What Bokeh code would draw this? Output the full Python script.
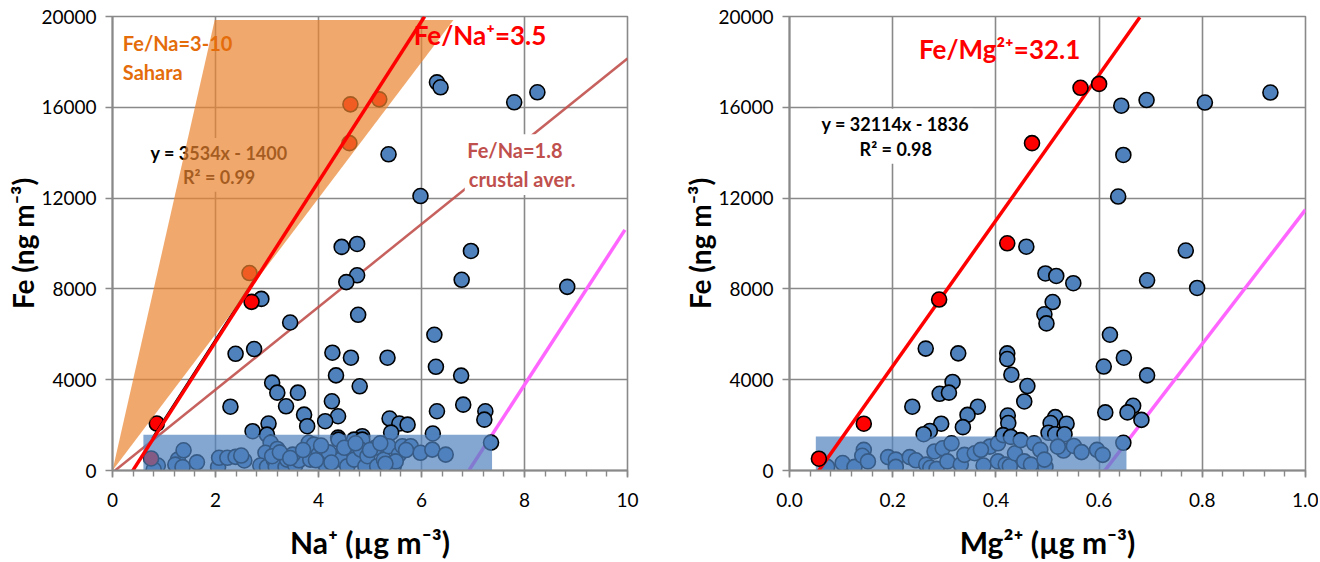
from bokeh.plotting import figure
from bokeh.layouts import row
from bokeh.models import FixedTicker, NumeralTickFormatter, Range1d
from bokeh.core.properties import value
from bokeh.embed import file_html
from bokeh.resources import INLINE

# ---- left panel: Fe vs Na+ ----
na_blue = [6.30, 6.37, 7.80, 8.25, 5.36, 5.98, 4.45, 4.75, 6.96, 4.75, 4.54, 6.78, 8.83,
           2.89, 4.77, 3.45, 2.39, 2.75, 4.27, 4.63, 5.34, 6.25, 6.28, 4.34, 6.77, 3.10,
           3.20, 3.60, 4.80, 2.29, 3.37, 4.26, 3.72, 4.38, 6.30, 6.81, 7.24, 7.22, 3.03,
           3.78, 4.13, 5.38, 5.57, 5.73, 2.72, 3.00, 4.38, 4.85, 5.41, 6.22, 7.35,
           0.88, 0.80, 1.27, 1.38, 1.22, 1.36, 1.64, 2.05, 2.07, 2.23, 2.39, 2.56, 2.50,
           3.07, 2.97, 2.87, 3.00, 3.13, 3.17, 3.20, 3.10, 3.36, 3.39, 3.55, 3.62, 3.84,
           3.81, 3.91, 4.00, 4.14, 4.30, 4.43, 4.39, 4.56, 4.65, 4.69, 4.69, 4.85, 4.82,
           4.91, 4.95, 5.10, 5.14, 5.27, 5.36, 5.46, 5.56, 5.63, 5.79, 5.98, 6.21, 6.47,
           3.50, 3.70, 4.20, 4.50, 4.05, 4.72, 5.00, 5.20, 5.50, 5.30, 3.25, 3.45, 5.70,
           3.95, 4.25]
fe_blue_na = [17100, 16880, 16220, 16660, 13930, 12090, 9850, 9980, 9670, 8600, 8300, 8400, 8090,
              7560, 6860, 6520, 5140, 5350, 5190, 4970, 4970, 5980, 4570, 4190, 4180, 3870,
              3430, 3430, 3710, 2810, 2830, 3050, 2460, 2390, 2610, 2900, 2610, 2240, 2070,
              1950, 2170, 2290, 2070, 2020, 1730, 1580, 1450, 1510, 1670, 1630, 1230,
              220, 40, 480, 890, 260, 150, 360, 150, 560, 560, 600, 440, 660,
              1220, 780, 220, 160, 480, 160, 950, 630, 160, 480, 220, 450, 480,
              1220, 1140, 700, 220, 630, 480, 1360, 190, 920, 480, 1360, 1360, 920,
              190, 630, 1000, 190, 480, 1070, 190, 700, 1070, 1070, 780, 920, 700,
              700, 900, 800, 1000, 1100, 1200, 900, 1200, 400, 300, 800, 550, 900,
              450, 350]
na_red = [0.86, 0.75, 2.70, 2.66, 4.60, 4.62, 5.18]
fe_red_na = [2070, 530, 7430, 8700, 14420, 16130, 16350]

sahara_na = [0, 1.985, 6.62]
sahara_fe = [0, 19850, 19850]
fit_na = [0.31, 6.06]
fit_fe = [-300, 20000]
trend_na = [0.77, 2.85]
trend_fe = [1420, 8770]
crust_na = [0.05, 10.0]
crust_fe = [0, 18150]
pink_na = [6.92, 9.95]
pink_fe = [0, 10600]
box_na = [0.60, 7.37, 0, 1580]

# ---- right panel: Fe vs Mg2+ ----
mg_blue = [0.643, 0.692, 0.805, 0.932, 0.647, 0.637, 0.459, 0.768, 0.496, 0.517, 0.550, 0.693,
           0.790, 0.510, 0.494, 0.498, 0.621, 0.264, 0.327, 0.422, 0.422, 0.648, 0.609, 0.430,
           0.693, 0.316, 0.461, 0.291, 0.309, 0.455, 0.238, 0.365, 0.666, 0.612, 0.655, 0.345,
           0.423, 0.424, 0.515, 0.506, 0.537, 0.682, 0.294, 0.336, 0.272, 0.260, 0.502, 0.515,
           0.533, 0.647,
           0.073, 0.103, 0.126, 0.144, 0.141, 0.152, 0.191, 0.206, 0.206, 0.233, 0.245, 0.265,
           0.273, 0.285, 0.281, 0.297, 0.314, 0.306, 0.332, 0.339, 0.359, 0.376, 0.388, 0.371,
           0.404, 0.404, 0.414, 0.419, 0.429, 0.427, 0.437, 0.448, 0.455, 0.468, 0.474, 0.486,
           0.496, 0.494, 0.531, 0.551, 0.566, 0.596, 0.607, 0.520]
fe_blue_mg = [16070, 16320, 16210, 16650, 13900, 12070, 9860, 9690, 8680, 8570, 8250, 8380,
              8040, 7420, 6880, 6480, 5980, 5370, 5160, 5160, 4910, 4970, 4580, 4220,
              4190, 3900, 3720, 3380, 3430, 3040, 2810, 2810, 2850, 2560, 2560, 2450,
              2420, 2090, 2350, 2090, 2060, 2230, 2060, 1910, 1740, 1600, 1660, 1600,
              1600, 1220,
              160, 330, 160, 910, 650, 400, 590, 480, 160, 590, 450, 260,
              120, 70, 840, 980, 1200, 400, 260, 690, 760, 220, 1050, 910,
              1200, 400, 1560, 260, 1480, 190, 760, 1340, 400, 260, 1200, 910,
              160, 480, 880, 1080, 810, 910, 690, 1050]
mg_red = [0.057, 0.144, 0.290, 0.422, 0.470, 0.564, 0.600]
fe_red_mg = [520, 2060, 7530, 10010, 14420, 16860, 17030]

fit_mg = [0.049, 0.679]
fit_fe_mg = [-250, 19970]
pink_mg = [0.598, 1.0]
pink_fe_mg = [-390, 11490]
box_mg = [0.051, 0.653, 0, 1500]

FONT = "Lato"
GRAY = "#898989"
BLUE = "#4F81BD"
H = 562


def base_fig(width, b_left, b_right, b_top, x_end, majors, minors, fmt, x_title):
    p = figure(width=width, height=H, x_range=Range1d(0, x_end), y_range=Range1d(0, 20000),
               output_backend="svg", toolbar_location=None,
               min_border_left=b_left, min_border_right=b_right,
               min_border_top=b_top, min_border_bottom=91)
    p.outline_line_color = GRAY
    p.outline_line_width = 1.6
    p.xaxis.ticker = FixedTicker(ticks=majors, minor_ticks=minors)
    p.yaxis.ticker = FixedTicker(ticks=[0, 4000, 8000, 12000, 16000, 20000])
    p.xaxis.formatter = NumeralTickFormatter(format=fmt)
    p.yaxis.formatter = NumeralTickFormatter(format="0")
    for ax in (p.xaxis, p.yaxis):
        ax.axis_line_color = GRAY
        ax.axis_line_width = 2
        ax.major_tick_line_color = GRAY
        ax.major_tick_line_width = 1.6
        ax.minor_tick_line_color = GRAY
        ax.minor_tick_line_width = 1.4
        ax.major_tick_in = 0
        ax.major_tick_out = 7
        ax.minor_tick_in = 0
        ax.minor_tick_out = 6
        ax.major_label_text_font = FONT
        ax.major_label_text_font_size = "19px"
        ax.major_label_text_color = "black"
        ax.axis_label_text_font = FONT
        ax.axis_label_text_font_style = "bold"
        ax.axis_label_text_color = "black"
    p.xaxis.axis_label_text_font_size = "30px"
    p.yaxis.axis_label_text_font_size = "28px"
    p.xaxis.major_label_standoff = 15
    p.yaxis.major_label_standoff = 9
    p.xaxis.axis_label_standoff = 14
    p.yaxis.axis_label_standoff = -2
    p.xaxis.axis_label = x_title
    p.yaxis.axis_label = "Fe (ng m⁻³)"
    for g in (p.xgrid, p.ygrid):
        g.grid_line_color = GRAY
        g.grid_line_width = 1.6
    return p


def label(p, x, y, txt, color, size, align="left", bg=None):
    kw = {}
    if bg:
        kw = dict(background_fill_color=bg, padding=4)
    p.text(x=[x], y=[y], text=[txt], text_color=color, text_font=value(FONT),
           text_font_size=size, text_font_style="bold", text_align=align,
           text_baseline="middle", **kw)


# left figure
p1 = base_fig(655, 112, 28, 16, 10, [0, 2, 4, 6, 8, 10],
              [i * 0.4 for i in range(26)], "0", "Na⁺ (µg m⁻³)")
p1.line(crust_na, crust_fe, line_color="#C0504D", line_width=2.5, line_alpha=0.9)
p1.line(pink_na, pink_fe, line_color="#FF66FF", line_width=3.5)
p1.scatter(na_blue, fe_blue_na, size=15, fill_color=BLUE, line_color="black", line_width=1.6)
p1.scatter(na_red, fe_red_na, size=15, fill_color="red", line_color="black", line_width=1.6)
label(p1, 2.07, 13990, "y = 3534x - 1400", "black", "18px", "center", "white")
label(p1, 2.07, 12940, "R² = 0.99", "black", "18px", "center", "white")
p1.line(trend_na, trend_fe, line_color="black", line_width=2)
p1.patch(sahara_na, sahara_fe, fill_color="#E9832F", fill_alpha=0.7, line_color=None)
p1.quad(left=[box_na[0]], right=[box_na[1]], bottom=[box_na[2]], top=[box_na[3]],
        fill_color=BLUE, fill_alpha=0.7, line_color=None)
p1.line(fit_na, fit_fe, line_color="red", line_width=3.5)
label(p1, 0.2, 18830, "Fe/Na=3-10", "#E46C0A", "20px")
label(p1, 0.2, 17550, "Sahara", "#E46C0A", "20px")
label(p1, 5.85, 19170, "Fe/Na⁺=3.5", "red", "26px")
label(p1, 6.81, 14110, "Fe/Na=1.8", "#C0504D", "20px", "left", "white")
label(p1, 6.84, 12840, "crustal  aver.", "#C0504D", "20px", "left", "white")

# right figure
p2 = base_fig(663, 134, 13, 11, 1.0, [0, 0.2, 0.4, 0.6, 0.8, 1.0],
              [i * 0.04 for i in range(26)], "0.0", "Mg²⁺ (µg m⁻³)")
p2.line(pink_mg, pink_fe_mg, line_color="#FF66FF", line_width=3.5)
p2.scatter(mg_blue, fe_blue_mg, size=15, fill_color=BLUE, line_color="black", line_width=1.6)
label(p2, 0.205, 15270, "y = 32114x - 1836", "black", "18px", "center", "white")
label(p2, 0.206, 14170, "R² = 0.98", "black", "18px", "center", "white")
p2.quad(left=[box_mg[0]], right=[box_mg[1]], bottom=[box_mg[2]], top=[box_mg[3]],
        fill_color=BLUE, fill_alpha=0.7, line_color=None)
p2.line(fit_mg, fit_fe_mg, line_color="red", line_width=3.5)
p2.scatter(mg_red, fe_red_mg, size=15, fill_color="red", line_color="black", line_width=1.6)
label(p2, 0.251, 18560, "Fe/Mg²⁺=32.1", "red", "26px")

layout = row(p1, p2)
open("out.html", "w").write(file_html(layout, INLINE))
